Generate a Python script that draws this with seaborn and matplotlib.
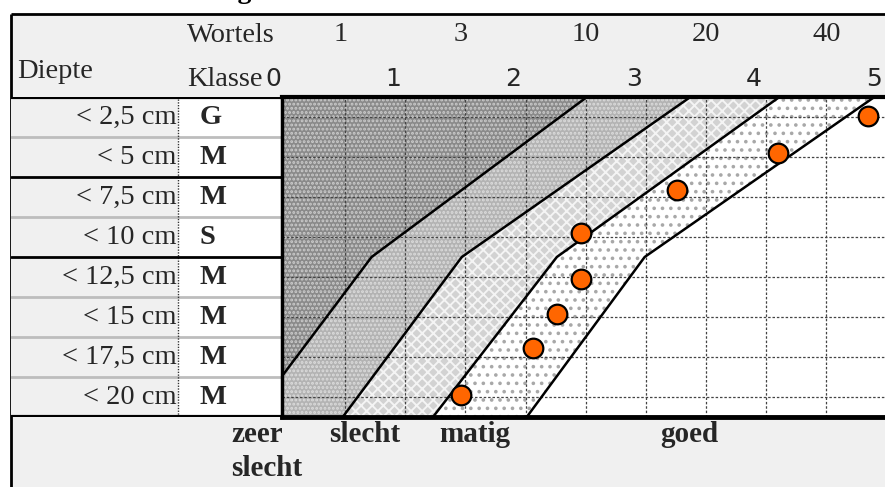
import matplotlib
matplotlib.use("Agg")
import matplotlib.pyplot as plt
import seaborn as sns
import numpy as np
from matplotlib.patches import Rectangle

sns.set_theme(style="white")
plt.rcParams['font.family'] = ['Liberation Serif', 'DejaVu Serif']
plt.rcParams['hatch.linewidth'] = 1.4

# ---------------- data ----------------
diepte_labels = ["< 2,5 cm", "< 5 cm", "< 7,5 cm", "< 10 cm",
                 "< 12,5 cm", "< 15 cm", "< 17,5 cm", "< 20 cm"]
diepte_grens = [0, 2.5, 5, 7.5, 10, 12.5, 15, 17.5, 20]
klasse_per_laag = ["G", "M", "M", "S", "M", "M", "M", "M"]
wortels_labels = ["1", "3", "10", "20", "40"]
wortels_pos = [0.46, 1.46, 2.5, 3.5, 4.5]
klasse_ticks = [0, 1, 2, 3, 4, 5]
oordeel_labels = ["zeer\nslecht", "slecht", "matig", "goed"]
oordeel_pos = [-0.45, 0.37, 1.28, 3.12]

grens_diepte = [0, 10, 20]
grens_1 = [2.51, 0.72, -0.28]
grens_2 = [3.37, 1.47, 0.48]
grens_3 = [4.11, 2.26, 1.23]
grens_4 = [4.90, 2.99, 2.01]

punt_diepte = [1.19, 3.5, 5.81, 8.5, 11.38, 13.56, 15.69, 18.63]
punt_klasse = [4.85, 4.10, 3.26, 2.46, 2.46, 2.26, 2.06, 1.46]

# ---------------- layout ----------------
W, H = 885, 487
fig = plt.figure(figsize=(W / 100, H / 100), dpi=100)
GRAY = '#f0f0f0'
SERIF = 20.5


def px_box(x0, y0, x1, y1):
    return [x0 / W, 1 - y1 / H, (x1 - x0) / W, (y1 - y0) / H]


bg = fig.add_axes([0, 0, 1, 1], zorder=0)
bg.set_xlim(0, W)
bg.set_ylim(H, 0)
bg.axis('off')
bg.add_patch(Rectangle((11, 14), W - 11, H - 14, fc=GRAY, ec='none'))
bg.plot([11, W], [14, 14], color='black', lw=2, solid_capstyle='butt')
bg.plot([11, 11], [14, H], color='black', lw=2, solid_capstyle='butt')

# title, mostly above the top edge (only the descender shows)
bg.text(252, -1.5, "Beworteling", ha='right', va='baseline', fontsize=20,
        fontweight='bold', color='black')

# header texts
bg.text(187, 35, "Wortels", ha='left', va='center', fontsize=SERIF)
bg.text(17, 72, "Diepte", ha='left', va='center', fontsize=SERIF)
bg.text(187, 79, "Klasse", ha='left', va='center', fontsize=SERIF)

# ---------------- table axes ----------------
tab = fig.add_axes(px_box(11, 97, 282, 417), zorder=1)
tab.set_xlim(0, 1)
tab.set_ylim(20, 0)
tab.set_facecolor(GRAY)
split = (178 - 11) / 271
tab.axvspan(split, 1, color='white', zorder=0)
for sp in tab.spines.values():
    sp.set_visible(False)
tab.set_xticks([])
tab.set_yticks([])
centers = [(a + b) / 2 for a, b in zip(diepte_grens[:-1], diepte_grens[1:])]
for g in diepte_grens:
    if g in (0, 20):
        tab.axhline(g, color='black', lw=3, zorder=3)
    elif g in (5, 10):
        tab.axhline(g, color='black', lw=2, zorder=3)
    else:
        tab.axhline(g, color='#bdbdbd', lw=2, zorder=2)
tab.axvline(split, color='#333333', lw=1, ls=(0, (1, 1)), zorder=2)
for c, lab, kl in zip(centers, diepte_labels, klasse_per_laag):
    tab.text(split - 0.006, c, lab, ha='right', va='center', fontsize=SERIF)
    tab.text(0.697, c, kl, ha='left', va='center', fontsize=SERIF,
             fontweight='bold')

# ---------------- main axes ----------------
ax = fig.add_axes(px_box(282, 97, 885, 417), zorder=2)
ax.set_facecolor('white')

far_left = [-1, -1, -1]
ax.fill_betweenx(grens_diepte, far_left, grens_1, facecolor='#8a8a8a',
                 edgecolor='#cccccc', hatch='....', lw=0, zorder=1)
ax.fill_betweenx(grens_diepte, grens_1, grens_2, facecolor='#b3b3b3',
                 edgecolor='#dcdcdc', hatch='....', lw=0, zorder=1)
ax.fill_betweenx(grens_diepte, grens_2, grens_3, facecolor='#d2d2d2',
                 edgecolor='#f4f4f4', hatch='xxx', lw=0, zorder=1)
ax.fill_betweenx(grens_diepte, grens_3, grens_4, facecolor='white',
                 edgecolor='#a8a8a8', hatch='..', lw=0, zorder=1)

# grid
for gx in np.arange(0.5, 5.0, 0.5):
    ax.axvline(gx, color='#444444', lw=0.9, ls=(0, (2, 1.5)), zorder=2)
for c in centers:
    ax.axhline(c, color='#444444', lw=0.9, ls=(0, (2, 1.5)), zorder=2)

for gr in (grens_1, grens_2, grens_3, grens_4):
    sns.lineplot(x=gr, y=grens_diepte, sort=False, estimator=None,
                 color='black', lw=1.8, ax=ax, zorder=4)

sns.scatterplot(x=punt_klasse, y=punt_diepte, s=200, color='#ff6600',
                edgecolor='black', linewidth=1.6, ax=ax, zorder=5, legend=False)

ax.set_xlim(-0.025, 4.988)
ax.set_ylim(20, 0)
ax.set_xticks([])
ax.set_yticks([])
ax.set_xlabel('')
ax.set_ylabel('')
ax.spines['right'].set_visible(False)
ax.spines['top'].set_linewidth(3)
ax.spines['bottom'].set_linewidth(3.5)
ax.spines['left'].set_linewidth(2.5)
for sp in ('top', 'bottom', 'left'):
    ax.spines[sp].set_color('black')

xtr = ax.get_xaxis_transform()
for k in klasse_ticks:
    ax.text(k - 0.1, 1.056, str(k), transform=xtr, ha='center', va='center',
            fontsize=18, family='DejaVu Sans', clip_on=False)
for p, lab in zip(wortels_pos, wortels_labels):
    ax.text(p, 1.195, lab, transform=xtr, ha='center', va='center',
            fontsize=SERIF, clip_on=False)
for p, lab in zip(oordeel_pos, oordeel_labels):
    ax.text(p, -0.012, lab, transform=xtr, ha='left', va='top',
            fontsize=21, fontweight='bold', linespacing=1.35, clip_on=False)

fig.savefig("out.png", dpi=100)
